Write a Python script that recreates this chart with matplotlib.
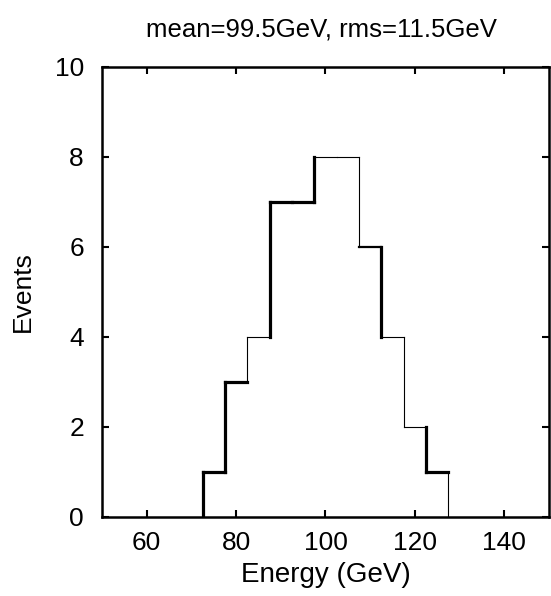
import matplotlib
matplotlib.use("Agg")
import matplotlib.pyplot as plt

# bin edges (GeV) and event counts
edges = [72.5, 77.5, 82.5, 87.5, 92.5, 97.5, 102.5, 107.5, 112.5, 117.5, 122.5, 127.5]
counts = [1, 3, 4, 7, 7, 8, 8, 6, 4, 2, 1]

x_ticks = [60, 80, 100, 120, 140]
y_ticks = [0, 2, 4, 6, 8, 10]
title = "mean=99.5GeV, rms=11.5GeV"

# the scanned original has uneven stroke widths, mimic them
THICK, THIN, MID = 2.3, 0.8, 1.6
vert_lw = [THICK, THICK, THIN, THICK, THIN, THICK, THIN, THIN, THICK, THIN, THICK, THIN]
horiz_lw = [THICK, THICK, THIN, THICK, THICK, THIN, THIN, MID, THIN, THIN, THICK]

plt.rcParams['font.family'] = ['Liberation Sans', 'DejaVu Sans']

fig = plt.figure(figsize=(5.51, 5.96), dpi=100)
ax = fig.add_axes([0.185, 0.1326, 0.8114, 0.755])

padded = [0] + counts + [0]
for i, x in enumerate(edges):
    ax.plot([x, x], [padded[i], padded[i + 1]], color='black',
            lw=vert_lw[i], solid_capstyle='projecting')
for i, c in enumerate(counts):
    ax.plot([edges[i], edges[i + 1]], [c, c], color='black',
            lw=horiz_lw[i], solid_capstyle='projecting')

ax.set_xlim(50, 150)
ax.set_ylim(0, 10)
ax.set_xticks(x_ticks)
ax.set_yticks(y_ticks)
ax.tick_params(direction='in', length=5, width=1.5, top=True, right=True,
               labelsize=19, color='black')
ax.tick_params(axis='y', pad=13)
ax.tick_params(axis='x', pad=10)
for s in ax.spines.values():
    s.set_linewidth(1.8)

ax.set_xlabel("Energy (GeV)", fontsize=20, labelpad=5)
ax.set_ylabel("Events", fontsize=19, labelpad=14)
ax.set_title(title, fontsize=18.5, pad=22, x=0.49)

fig.savefig("out.png", dpi=100)
